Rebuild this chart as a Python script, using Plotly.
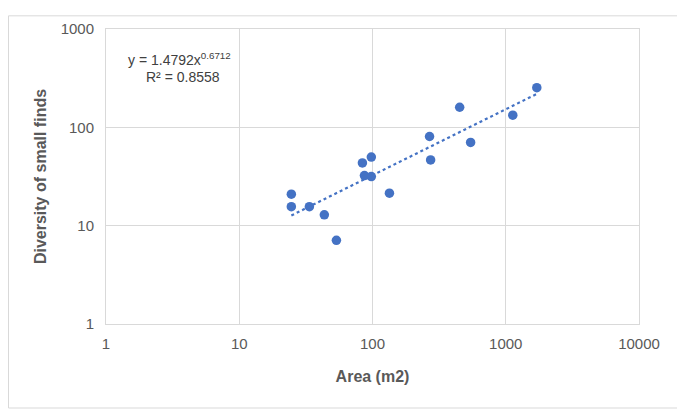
import numpy as np
import plotly.graph_objects as go

# site area (m2) vs diversity of small finds
area = [24.6, 24.6, 33.6, 43.5, 53.6, 84, 87, 98, 98, 134, 268, 273, 451, 545, 1129, 1710]
diversity = [20.9, 15.6, 15.6, 12.9, 7.1, 43.5, 32.3, 49.9, 31.6, 21.4, 80.7, 46.6, 160, 70.3, 133, 253]

# power trendline as printed on the chart
coef_a = 1.4792
coef_b = 0.6712
r2 = 0.8558

tick_vals_x = [1, 10, 100, 1000, 10000]
tick_vals_y = [1, 10, 100, 1000]

blue = '#4472C4'
grey_text = '#595959'
font_fam = 'Liberation Sans, Arial'

fig = go.Figure()

xs = np.logspace(np.log10(min(area)), np.log10(max(area)), 60)
fig.add_trace(go.Scatter(
    x=xs, y=coef_a * xs ** coef_b,
    mode='lines',
    line=dict(color=blue, width=2.2, dash='dot'),
    hoverinfo='skip', showlegend=False
))

fig.add_trace(go.Scatter(
    x=area, y=diversity,
    mode='markers',
    marker=dict(color=blue, size=9.5),
    showlegend=False
))

fig.add_annotation(
    x=0.137, y=0.897, xref='paper', yref='paper', xanchor='center', yanchor='middle',
    text=f'y = {coef_a}x<sup>{coef_b}</sup>',
    showarrow=False, font=dict(family=font_fam, size=14, color='#404040')
)
fig.add_annotation(
    x=0.145, y=0.838, xref='paper', yref='paper', xanchor='center', yanchor='middle',
    text=f'R² = {r2}',
    showarrow=False, font=dict(family=font_fam, size=14, color='#404040')
)

# light border around the whole chart area (page body adds an 8px offset)
w, h = 533, 302
fig.add_shape(
    type='rect', xref='paper', yref='paper',
    x0=(0.5 - 98) / w, x1=(676 - 98) / w,
    y0=(316 - 402) / h, y1=(316 - 0.5) / h,
    line=dict(color='#d9d9d9', width=1), layer='below'
)

fig.update_xaxes(
    type='log', range=[0, 4],
    tickvals=tick_vals_x, ticktext=[str(v) for v in tick_vals_x],
    showgrid=True, gridcolor='#d9d9d9', gridwidth=1,
    showline=True, linecolor='#d9d9d9', mirror=True,
    zeroline=False, ticks='', ticklabelstandoff=6,
    tickfont=dict(family=font_fam, size=15, color=grey_text),
    title=dict(text='<b>Area (m2)</b>', standoff=19,
               font=dict(family=font_fam, size=16, color=grey_text))
)
fig.update_yaxes(
    type='log', range=[0, 3],
    tickvals=tick_vals_y, ticktext=[str(v) for v in tick_vals_y],
    showgrid=True, gridcolor='#d9d9d9', gridwidth=1,
    showline=True, linecolor='#d9d9d9', mirror=True,
    zeroline=False, ticks='', ticklabelstandoff=8,
    tickfont=dict(family=font_fam, size=15, color=grey_text),
    title=dict(text='<b>Diversity of small finds</b>', standoff=10,
               font=dict(family=font_fam, size=16, color=grey_text))
)

fig.update_layout(
    width=677, height=404,
    margin=dict(l=98, r=46, t=14, b=88),
    paper_bgcolor='white', plot_bgcolor='white'
)

fig.write_html("out.html")
